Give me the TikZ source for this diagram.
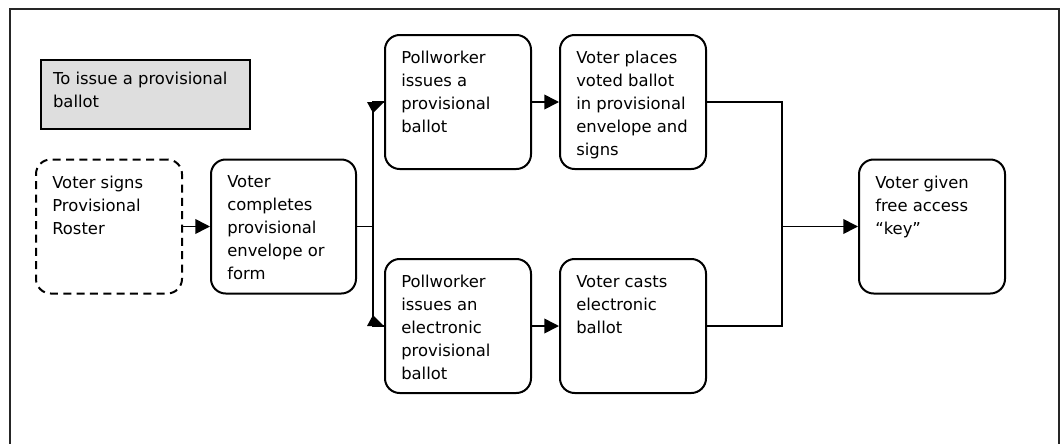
\documentclass[tikz,border=0pt]{standalone}
\usepackage{fontspec}
\setmainfont{DejaVu Sans}
\usetikzlibrary{arrows.meta,calc}
\newcommand\pxu{0.75pt}
\begin{document}
\begin{tikzpicture}[x=0.75pt,y=-0.75pt,
  font=\fontsize{12.3}{17.25}\selectfont,
  frame/.style={draw=black!85,line width=1.6pt},
  stepbox/.style={draw,line width=1.5pt,rounded corners=11pt,minimum width=146*\pxu,minimum height=134*\pxu,inner sep=0pt},
  dashbox/.style={stepbox,dash pattern=on 6pt off 4pt},
  titlebox/.style={draw,line width=1.8pt,fill=black!13,minimum width=209*\pxu,minimum height=69*\pxu,inner sep=0pt},
  txt/.style={anchor=north west,align=left,inner sep=0pt,xshift=17*\pxu,yshift=-17*\pxu},
  ttxt/.style={anchor=north west,align=left,inner sep=0pt,xshift=13*\pxu,yshift=-13*\pxu},
  conn/.style={line width=1.2pt},
  arr/.style={conn,-{Triangle[length=11pt,width=11pt]}},
  head/.style={fill=black}
]
\useasboundingbox (0,0) rectangle (1062,443);
\begin{scope}
\clip (0,0) rectangle (1062,443);
\draw[frame] (10,9) rectangle (1059,470);
\end{scope}

\node[titlebox,label={[ttxt]north west:{To issue a provisional\\ballot}}] (title) at (145.5,94.5) {};

\node[dashbox,label={[txt]north west:{Voter signs\\Provisional\\Roster}}] (b1) at (109,226.5) {};
\node[stepbox,minimum width=145*\pxu,label={[txt]north west:{Voter\\completes\\provisional\\envelope or\\form}}] (b2) at (283.5,226.5) {};
\node[stepbox,label={[txt]north west:{Pollworker\\issues a\\provisional\\ballot}}] (b3) at (458,102) {};
\node[stepbox,label={[txt]north west:{Voter places\\voted ballot\\in provisional\\envelope and\\signs}}] (b4) at (633,102) {};
\node[stepbox,label={[txt]north west:{Pollworker\\issues an\\electronic\\provisional\\ballot}}] (b5) at (458,326) {};
\node[stepbox,label={[txt]north west:{Voter casts\\electronic\\ballot}}] (b6) at (633,326) {};
\node[stepbox,label={[txt]north west:{Voter given\\free access\\“key”}}] (b7) at (932,226.5) {};

\coordinate (jl) at (373,226.5);
\coordinate (jr) at (782,226.5);

\draw[arr] (b1.east) -- (b2.west);
\draw[conn] (b2.east) -- (jl);
\draw[conn] (jl) |- (b3.west);
\draw[conn] (jl) |- (b5.west);
\fill[head] ($(b3.west)+(-17,0)$) -- (b3.west) -- ($(b3.west)+(-11,11)$) -- cycle;
\fill[head] ($(b5.west)+(-17,0)$) -- (b5.west) -- ($(b5.west)+(-11,-11)$) -- cycle;
\draw[arr] (b3.east) -- (b4.west);
\draw[arr] (b5.east) -- (b6.west);
\draw[conn] (b4.east) -| (jr);
\draw[conn] (b6.east) -| (jr);
\draw[arr] (jr) -- (b7.west);
\end{tikzpicture}
\end{document}
